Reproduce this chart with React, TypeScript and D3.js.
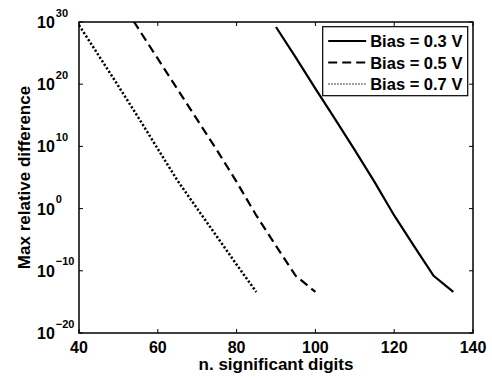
import React, { useEffect, useRef } from 'react';
import * as d3 from 'd3';

// n. significant digits and log10 of max relative difference
const digits03 = [90, 95, 100, 105, 110, 115, 120, 125, 130, 135];
const logDiff03 = [29.2, 24.3, 19.3, 14.4, 9.4, 4.3, -1.1, -6.0, -10.8, -13.4];

const digits05 = [50, 55, 60, 65, 70, 75, 80, 85, 90, 95, 100];
const logDiff05 = [33.9, 29.0, 24.1, 19.2, 14.3, 9.4, 4.3, -1.1, -6.0, -10.8, -13.4];

const digits07 = [40, 45, 50, 55, 60, 65, 70, 75, 80, 85];
const logDiff07 = [29.5, 24.6, 19.7, 14.7, 9.6, 4.5, 0.0, -4.5, -9.0, -13.4];

const seriesNames = ['Bias = 0.3 V', 'Bias = 0.5 V', 'Bias = 0.7 V'];
const xTicks = [40, 60, 80, 100, 120, 140];
const yTickExponents = [30, 20, 10, 0, -10, -20];

const App = () => {
  const chartRef = useRef<SVGSVGElement>(null);

  useEffect(() => {
    const svg = d3.select(chartRef.current);
    svg.selectAll('*').remove();

    const W = 492;
    const H = 377;
    const margin = { top: 22, right: 19, bottom: 44, left: 79 };
    const width = W - margin.left - margin.right;
    const height = H - margin.top - margin.bottom;
    const font = '"Liberation Sans", Arial, Helvetica, sans-serif';

    const x = d3.scaleLinear().domain([40, 140]).range([0, width]);
    const y = d3.scaleLog().domain([1e-20, 1e30]).range([height, 0]);

    const g = svg.append('g').attr('transform', `translate(${margin.left},${margin.top})`);

    g.append('defs').append('clipPath').attr('id', 'plot-clip')
      .append('rect').attr('width', width).attr('height', height);

    // lines
    const line = d3.line<[number, number]>()
      .x(d => x(d[0]))
      .y(d => y(Math.pow(10, d[1])));

    const series = [
      { name: seriesNames[0], pts: digits03.map((d, i) => [d, logDiff03[i]] as [number, number]), dash: null, w: 2.2 },
      { name: seriesNames[1], pts: digits05.map((d, i) => [d, logDiff05[i]] as [number, number]), dash: '9,5', w: 2.2 },
      { name: seriesNames[2], pts: digits07.map((d, i) => [d, logDiff07[i]] as [number, number]), dash: '2.2,2', w: 2.5 },
    ];

    g.append('g').attr('clip-path', 'url(#plot-clip)')
      .selectAll('path')
      .data(series)
      .enter().append('path')
      .attr('d', d => line(d.pts))
      .attr('fill', 'none')
      .attr('stroke', '#000')
      .attr('stroke-width', d => d.w)
      .attr('stroke-dasharray', d => d.dash);

    // axes box and ticks
    const tickLen = 4;
    g.append('rect')
      .attr('width', width).attr('height', height)
      .attr('fill', 'none').attr('stroke', '#000').attr('stroke-width', 1.5);

    const xt = g.append('g').selectAll('g').data(xTicks).enter().append('g');
    xt.append('line')
      .attr('x1', d => x(d)).attr('x2', d => x(d))
      .attr('y1', height).attr('y2', height - tickLen)
      .attr('stroke', '#000').attr('stroke-width', 1);
    xt.append('line')
      .attr('x1', d => x(d)).attr('x2', d => x(d))
      .attr('y1', 0).attr('y2', tickLen)
      .attr('stroke', '#000').attr('stroke-width', 1);
    xt.append('text')
      .attr('x', d => x(d)).attr('y', height + 20)
      .attr('text-anchor', 'middle')
      .attr('font-family', font).attr('font-weight', 'bold').attr('font-size', 16)
      .text(d => d);

    const yt = g.append('g').selectAll('g').data(yTickExponents).enter().append('g');
    yt.append('line')
      .attr('x1', 0).attr('x2', tickLen)
      .attr('y1', d => y(Math.pow(10, d))).attr('y2', d => y(Math.pow(10, d)))
      .attr('stroke', '#000').attr('stroke-width', 1);
    yt.append('line')
      .attr('x1', width).attr('x2', width - tickLen)
      .attr('y1', d => y(Math.pow(10, d))).attr('y2', d => y(Math.pow(10, d)))
      .attr('stroke', '#000').attr('stroke-width', 1);
    const ylab = yt.append('text')
      .attr('x', -42).attr('y', d => y(Math.pow(10, d)) + 6)
      .attr('font-family', font).attr('font-weight', 'bold').attr('font-size', 16);
    ylab.append('tspan').text('10');
    ylab.append('tspan')
      .attr('font-size', 11).attr('dx', 1).attr('dy', -11.5)
      .text(d => (d < 0 ? '\u2212' + Math.abs(d) : String(d)));

    // axis labels
    g.append('text')
      .attr('x', width / 2).attr('y', height + 37)
      .attr('text-anchor', 'middle')
      .attr('font-family', font).attr('font-weight', 'bold').attr('font-size', 17)
      .text('n. significant digits');

    g.append('text')
      .attr('transform', `translate(${-49},${height / 2}) rotate(-90)`)
      .attr('text-anchor', 'middle')
      .attr('font-family', font).attr('font-weight', 'bold').attr('font-size', 17)
      .text('Max relative difference');

    // legend
    const lg = g.append('g').attr('transform', `translate(${322.7 - margin.left},${26.7 - margin.top})`);
    lg.append('rect')
      .attr('width', 145).attr('height', 69)
      .attr('fill', '#fff').attr('stroke', '#000').attr('stroke-width', 1.2);
    const items = lg.selectAll('g.item').data(series).enter().append('g')
      .attr('class', 'item')
      .attr('transform', (d, i) => `translate(0,${14.3 + i * 21.5})`);
    items.append('line')
      .attr('x1', 5.5).attr('x2', 43.5).attr('y1', 0).attr('y2', 0)
      .attr('stroke', '#000')
      .attr('stroke-width', (d, i) => (i === 2 ? 1.2 : 2.2))
      .attr('stroke-dasharray', (d, i) => (i === 2 ? '1.5,1.5' : d.dash));
    items.append('text')
      .attr('x', 47.5).attr('y', 6)
      .attr('font-family', font).attr('font-weight', 'bold').attr('font-size', 16.5)
      .text(d => d.name);
  }, []);

  return (
    <svg
      ref={chartRef}
      width={492}
      height={377}
      style={{ position: 'absolute', left: 0, top: 0, background: '#fff' }}
    />
  );
};

export default App;
